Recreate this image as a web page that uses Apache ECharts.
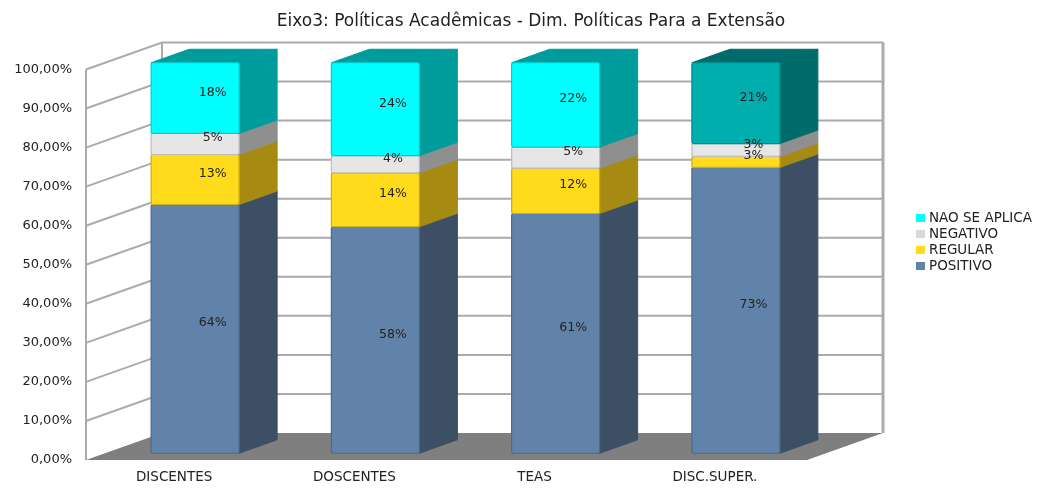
<!DOCTYPE html>
<html>
<head>
<meta charset="utf-8">
<style>html,body{margin:0;padding:0;background:#fff}#c{width:1043px;height:495px;filter:blur(0.55px)}</style>
<script src="https://cdn.jsdelivr.net/npm/echarts@6/dist/echarts.min.js"></script>
</head>
<body>
<div id="c"></div>
<script>
const chartTitle = 'Eixo3: Políticas Acadêmicas - Dim. Políticas Para a Extensão';
const categories = ['DISCENTES', 'DOSCENTES', 'TEAS', 'DISC.SUPER.'];
const valueTicks = [0, 10, 20, 30, 40, 50, 60, 70, 80, 90, 100];
const positivo = [63.7, 58.0, 61.4, 73.2];
const regular = [12.8, 13.8, 11.6, 2.8];
const negativo = [5.4, 4.4, 5.4, 3.3];
const naoSeAplica = [18.1, 23.8, 21.6, 20.7];

const FONT = '"DejaVu Sans"';
const DX = 76, DY = -27;           // 3-D depth vector
const FRONT = 0.25, BACK = 0.75;   // bar depth within the floor
const BAR_W = 88;
const stacks = [
  { name: 'POSITIVO', values: positivo, front: '#6283A9', side: '#3D4F65', edge: '#4C6A8E' },
  { name: 'REGULAR', values: regular, front: '#FFDB1C', side: '#A68A12', edge: '#C9AC1A' },
  { name: 'NEGATIVO', values: negativo, front: '#E6E6E6', side: '#8F8F8F', edge: '#BDBDBD' },
  { name: 'NAO SE APLICA', values: naoSeAplica, front: '#00FFFF', side: '#009C9C', edge: '#00CFCF' }
];
// the last bar's top segment is drawn in a darker teal
const frontOverride = { 3: { 3: { front: '#00AEAE', side: '#006B6B', edge: '#009090' } } };

function wallItem(params, api) {
  const cs = params.coordSys, v = api.value(0);
  const y = api.coord([0, v])[1];
  const x0 = cs.x, x1 = cs.x + cs.width;
  const line = { stroke: '#ABABAB', lineWidth: 2, fill: null };
  const children = [];
  if (v === 0) {
    children.push({ type: 'polyline', shape: { points: [[x0 + DX, y + DY], [x0 + DX, cs.y + DY]] }, style: line });
    children.push({ type: 'polyline', shape: { points: [[x1 + DX, y + DY], [x1 + DX, cs.y + DY]] }, style: Object.assign({}, line, { lineWidth: 3 }) });
    children.push({ type: 'polyline', shape: { points: [[x0, y], [x0, cs.y]] }, style: line });
    children.push({ type: 'polygon', shape: { points: [[x0, y], [x0 + DX, y + DY], [x1 + DX, y + DY], [x1, y]] },
      style: { fill: '#7F7F7F' } });
  } else {
    children.push({ type: 'polyline', shape: { points: [[x0, y], [x0 + DX, y + DY], [x1 + DX, y + DY]] }, style: line });
  }
  return { type: 'group', children };
}

function barItem(stackIdx) {
  return function (params, api) {
    const idx = api.value(0), lo = api.value(1), hi = api.value(2);
    const base = stacks[stackIdx];
    const col = (frontOverride[idx] && frontOverride[idx][stackIdx]) || base;
    const p = (v, d) => { const c = api.coord([idx, v]); return [c[0] + DX * d, c[1] + DY * d]; };
    const fb = p(lo, FRONT), ft = p(hi, FRONT), bb = p(lo, BACK), bt = p(hi, BACK);
    const l = fb[0] - BAR_W / 2, r = fb[0] + BAR_W / 2, sx = bb[0] - fb[0];
    const children = [];
    if (stackIdx === stacks.length - 1) {
      children.push({ type: 'polygon', z2: stackIdx, shape: { points: [[l, ft[1]], [l + sx, bt[1]], [r + sx, bt[1]], [r, ft[1]]] },
        style: { fill: col.side, stroke: col.side, lineWidth: 1, lineJoin: 'round' } });
    }
    children.push({ type: 'polygon', z2: stackIdx, shape: { points: [[r, fb[1]], [r + sx, bb[1]], [r + sx, bt[1]], [r, ft[1]]] },
      style: { fill: col.side, stroke: col.side, lineWidth: 1, lineJoin: 'round' } });
    children.push({ type: 'rect', z2: stackIdx, shape: { x: l, y: ft[1], width: BAR_W, height: fb[1] - ft[1], r: 2 },
      style: { fill: col.front, stroke: col.edge, lineWidth: 1.2 } });
    const m = p((lo + hi) / 2, 0.5);
    children.push({ type: 'text', z2: 100, style: { text: Math.round(hi - lo) + '%', x: m[0] - 1.5, y: m[1] + 1,
      textAlign: 'center', textVerticalAlign: 'middle', font: '12.5px ' + FONT, fill: '#222' } });
    return { type: 'group', children };
  };
}

const barSeries = stacks.map((s, si) => ({
  name: s.name,
  type: 'custom',
  coordinateSystem: 'cartesian2d',
  clip: false,
  z: 5,
  itemStyle: { color: s.name === 'NEGATIVO' ? '#D9D9D9' : s.front },
  renderItem: barItem(si),
  encode: { x: 0, y: [1, 2] },
  data: categories.map((_, i) => {
    let lo = 0;
    for (let k = 0; k < si; k++) lo += stacks[k].values[i];
    return [i, lo, lo + s.values[i]];
  })
}));

const chart = echarts.init(document.getElementById('c'), null, { renderer: 'canvas' });
chart.setOption({
  animation: false,
  backgroundColor: '#fff',
  title: { text: chartTitle, left: 526, top: 8, textAlign: 'center',
    textStyle: { fontFamily: FONT, fontSize: 17, fontWeight: 'normal', color: '#222' } },
  legend: {
    orient: 'vertical', left: 916, top: 211, padding: 0, itemWidth: 9, itemHeight: 8, itemGap: 2,
    icon: 'rect',
    data: ['NAO SE APLICA', 'NEGATIVO', 'REGULAR', 'POSITIVO'],
    textStyle: { fontFamily: FONT, fontSize: 13.5, color: '#222', padding: [0, 0, 0, -1] },
    selectedMode: false
  },
  grid: { left: 86, top: 69.5, width: 721, height: 390.5, containLabel: false },
  xAxis: {
    type: 'category', data: categories,
    axisLine: { show: false }, axisTick: { show: false }, splitLine: { show: false },
    axisLabel: { fontFamily: FONT, fontSize: 13.5, color: '#222', margin: 10, padding: [0, 4, 0, 0] }
  },
  yAxis: {
    type: 'value', min: 0, max: 100, interval: 10,
    axisLine: { show: false }, axisTick: { show: false }, splitLine: { show: false },
    axisLabel: { fontFamily: FONT, fontSize: 13, color: '#222', margin: 14, padding: [3, 0, 0, 0],
      formatter: v => v.toFixed(2).replace('.', ',') + '%' }
  },
  series: [{
    name: 'wall', type: 'custom', coordinateSystem: 'cartesian2d', clip: false, z: 1,
    renderItem: wallItem,
    encode: { y: 0 },
    data: valueTicks.map(v => [v])
  }].concat(barSeries)
});
</script>
</body>
</html>
